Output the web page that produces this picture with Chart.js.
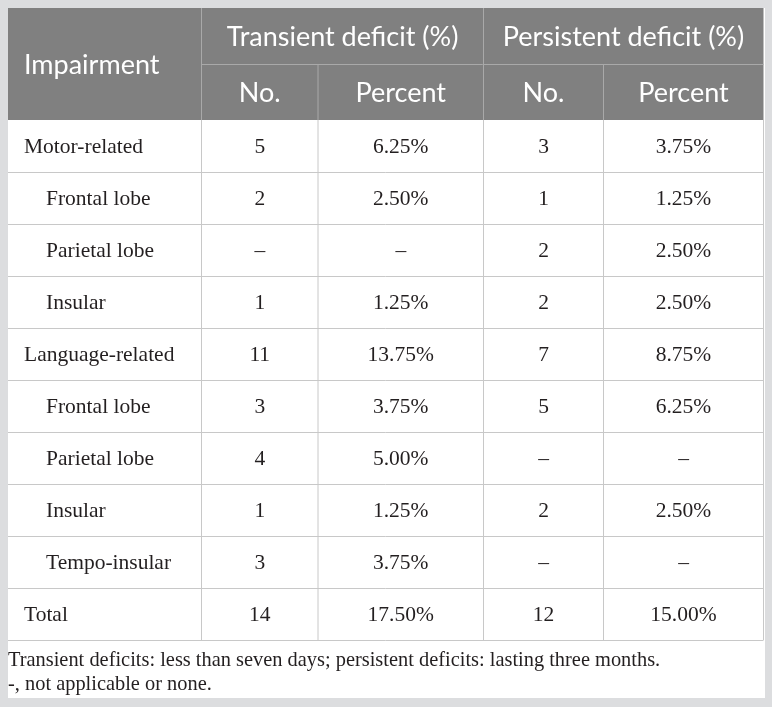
<!DOCTYPE html>
<html>
<head>
<meta charset="utf-8">
<title>Impairment table</title>
<script src="https://cdn.jsdelivr.net/npm/chart.js@4.4.1/dist/chart.umd.min.js"></script>
<style>
  html, body { margin: 0; padding: 0; background: #dcdddf; }
  canvas { display: block; }
</style>
</head>
<body>
<canvas id="tableChart" width="772" height="707"></canvas>
<script>
// Dữ liệu bảng
const rowLabels = [
  "Motor-related", "Frontal lobe", "Parietal lobe", "Insular",
  "Language-related", "Frontal lobe", "Parietal lobe", "Insular",
  "Tempo-insular", "Total"
];
const rowLevel = [0, 1, 1, 1, 0, 1, 1, 1, 1, 0];
const transientNo = [5, 2, null, 1, 11, 3, 4, 1, 3, 14];
const transientPct = [6.25, 2.5, null, 1.25, 13.75, 3.75, 5.0, 1.25, 3.75, 17.5];
const persistentNo = [3, 1, 2, 2, 7, 5, null, 2, null, 12];
const persistentPct = [3.75, 1.25, 2.5, 2.5, 8.75, 6.25, null, 2.5, null, 15.0];
const firstHeader = "Impairment";
const groupLabels = ["Transient deficit (%)", "Persistent deficit (%)"];
const subLabels = ["No.", "Percent"];
const footnotes = [
  "Transient deficits: less than seven days; persistent deficits: lasting three months.",
  "-, not applicable or none."
];

// Bố cục (đơn vị của trục)
const colEdges = [0, 193.5, 310, 475.5, 595.5, 755.5];
const headerEdges = [0, 56, 112];
const rowHeight = 52;
const tableHeight = headerEdges[2] + rowHeight * rowLabels.length;

const headFont = "27px Lato";
const bodyFont = "21.5px 'Liberation Serif'";
const noteFont = "20.4px 'Liberation Serif'";
const textColor = "#231f20";

function fmtNo(v) { return v === null ? "\u2013" : String(v); }
function fmtPct(v) { return v === null ? "\u2013" : v.toFixed(2) + "%"; }

const tablePlugin = {
  id: "tablePlugin",
  beforeDraw(chart) {
    const ctx = chart.ctx;
    ctx.save();
    ctx.fillStyle = "#dcdddf";
    ctx.fillRect(0, 0, chart.width, chart.height);
    ctx.fillStyle = "#ffffff";
    ctx.fillRect(8, 8, 757, 690);
    ctx.restore();
  },
  afterDraw(chart) {
    const ctx = chart.ctx;
    const x = chart.scales.x;
    const y = chart.scales.y;
    const px = (v) => x.getPixelForValue(v);
    const py = (v) => y.getPixelForValue(v);

    ctx.save();
    // nền tiêu đề
    ctx.fillStyle = "#808080";
    ctx.fillRect(px(0), py(0), px(colEdges[5]) - px(0), py(headerEdges[2]) - py(0));

    // đường kẻ tiêu đề
    ctx.strokeStyle = "#a9a9a9";
    ctx.lineWidth = 1;
    ctx.beginPath();
    ctx.moveTo(px(colEdges[1]), py(headerEdges[1]) + 0.5);
    ctx.lineTo(px(colEdges[5]), py(headerEdges[1]) + 0.5);
    [1, 3].forEach((c) => {
      ctx.moveTo(px(colEdges[c]), py(0));
      ctx.lineTo(px(colEdges[c]), py(headerEdges[2]));
    });
    [2, 4].forEach((c) => {
      ctx.moveTo(px(colEdges[c]), py(headerEdges[1]));
      ctx.lineTo(px(colEdges[c]), py(headerEdges[2]));
    });
    ctx.stroke();

    // đường kẻ phần thân
    ctx.strokeStyle = "#c8c8c8";
    ctx.beginPath();
    for (let r = 1; r <= rowLabels.length; r++) {
      const yy = Math.round(py(headerEdges[2] + r * rowHeight)) + 0.5;
      ctx.moveTo(px(0), yy);
      ctx.lineTo(px(colEdges[5]), yy);
    }
    for (let c = 1; c <= 5; c++) {
      ctx.moveTo(px(colEdges[c]), py(headerEdges[2]));
      ctx.lineTo(px(colEdges[c]), py(tableHeight));
    }
    ctx.stroke();

    // chữ tiêu đề
    ctx.fillStyle = "#ffffff";
    ctx.font = headFont;
    ctx.textBaseline = "alphabetic";
    ctx.textAlign = "left";
    ctx.fillText(firstHeader, px(0) + 16, py(headerEdges[2] / 2) + 9.5);
    ctx.textAlign = "center";
    groupLabels.forEach((g, i) => {
      const cx = (px(colEdges[1 + i * 2]) + px(colEdges[3 + i * 2])) / 2;
      ctx.fillText(g, cx, py(headerEdges[1] / 2) + 9.5);
      subLabels.forEach((s, j) => {
        const c = 1 + i * 2 + j;
        const sx = (px(colEdges[c]) + px(colEdges[c + 1])) / 2;
        ctx.fillText(s, sx, py((headerEdges[1] + headerEdges[2]) / 2) + 9.5);
      });
    });

    // chữ phần thân
    ctx.fillStyle = textColor;
    ctx.font = bodyFont;
    rowLabels.forEach((label, r) => {
      const cy = py(headerEdges[2] + (r + 0.5) * rowHeight) + 7;
      ctx.textAlign = "left";
      ctx.fillText(label, px(0) + 16 + rowLevel[r] * 22, cy);
      ctx.textAlign = "center";
      const cells = [
        fmtNo(transientNo[r]), fmtPct(transientPct[r]),
        fmtNo(persistentNo[r]), fmtPct(persistentPct[r])
      ];
      cells.forEach((t, c) => {
        const cx = (px(colEdges[c + 1]) + px(colEdges[c + 2])) / 2;
        ctx.fillText(t, cx, cy);
      });
    });

    // chú thích
    ctx.font = noteFont;
    ctx.textAlign = "left";
    footnotes.forEach((f, i) => {
      ctx.fillText(f, px(0), py(tableHeight) + 26 + i * 24);
    });
    ctx.restore();
  }
};

new Chart(document.getElementById("tableChart"), {
  type: "scatter",
  data: { datasets: [] },
  options: {
    responsive: false,
    animation: false,
    events: [],
    layout: { padding: { left: 8, top: 8, right: 8.5, bottom: 67 } },
    plugins: { legend: { display: false }, tooltip: { enabled: false } },
    scales: {
      x: { type: "linear", min: 0, max: colEdges[5], display: false },
      y: { type: "linear", min: 0, max: tableHeight, reverse: true, display: false }
    }
  },
  plugins: [tablePlugin]
});
</script>
</body>
</html>
